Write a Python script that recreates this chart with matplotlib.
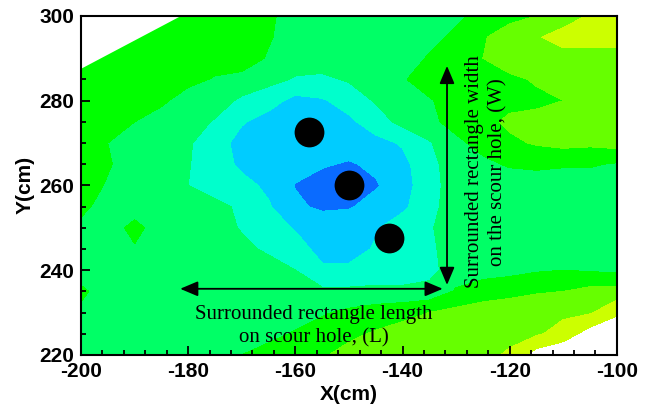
import matplotlib
matplotlib.use("Agg")
import matplotlib.pyplot as plt
from matplotlib.ticker import MultipleLocator

plt.rcParams['axes.unicode_minus'] = False

# measurement grid (cm)
x_cm = [-200, -195, -190, -185, -180, -175, -170, -165, -160, -155, -150,
        -145, -140, -135, -130, -125, -120, -115, -110, -105, -100]
y_cm = [300, 295, 290, 285, 280, 275, 270, 265, 260, 255, 250, 245, 240,
        235, 230, 225, 220]

# bed level class at each grid node (0 = deepest scour ... 6 = highest deposit)
bed = [
    [4, 4, 4, 4, 4, 4, 4, 3.7, 3, 3, 3, 3, 3, 3.2, 3.3, 3.8, 4.2, 4.5, 5.0, 5.6, 6.1],
    [4, 4, 4, 4, 4, 4, 4, 3.6, 3, 3, 3, 3, 3, 3.2, 3.7, 4.4, 5.0, 5.4, 5.9, 6, 6],
    [4, 4, 4, 4, 4, 4, 4, 3.4, 3, 3, 3, 3, 3, 3.6, 4, 4.5, 5, 5.1, 5.1, 5, 5],
    [4, 4, 4, 4, 3.8, 3.4, 3.2, 2.8, 2.4, 2.3, 2.6, 3, 3.4, 4, 4, 4.1, 4.3, 4.6, 4.7, 5, 5],
    [4, 4, 4, 3.7, 3, 3, 2.3, 1.9, 1.2, 1.4, 1.9, 2.6, 3.3, 3.4, 4, 4, 4.2, 4.3, 4.5, 5, 5],
    [4, 4, 3.5, 3, 3, 2.4, 1.6, 1.1, 1.3, 1.5, 1.3, 2.0, 2.8, 3.3, 3.8, 4.2, 4.7, 4.8, 5, 5, 5],
    [4, 3.5, 3, 3, 2.6, 2.0, 1.1, 1.0, 1.2, 1.0, 1.0, 1.2, 1.6, 2.4, 3.3, 3.8, 4.3, 4.6, 4.8, 4.7, 4.9],
    [4, 3.6, 3, 3, 2.55, 2, 1.3, 1, 0.9, 0.6, 0.4, 0.7, 1.2, 2.2, 3, 3.3, 3.6, 3.7, 3.6, 3.6, 3.4],
    [4, 3.4, 3, 3, 2.5, 2, 1.8, 1.3, 0.45, 0.1, 0.2, 0.4, 1.1, 2.1, 3, 3, 3, 3, 3, 3, 3],
    [3.8, 3, 3, 3, 3, 2.8, 2.3, 1.6, 0.7, 0.3, 0.4, 0.9, 1.3, 2.2, 3, 3, 3, 3, 3, 3, 3],
    [3.2, 3, 3.8, 3, 3, 3, 2.4, 2, 1.4, 1.2, 1.2, 1.4, 2.0, 2.4, 3, 3, 3, 3, 3, 3, 3],
    [3, 3, 3.4, 3, 3, 3, 2.8, 2.3, 2, 1.1, 1.1, 1.6, 2.1, 2.3, 3, 3, 3, 3, 3, 3, 3],
    [3, 3, 3, 3, 3, 3, 3, 3, 2.5, 1.7, 1.7, 2.0, 2.0, 2.2, 3, 3.1, 3.2, 3.4, 3.5, 3.4, 3.3],
    [3.7, 3, 3, 3, 3, 3, 3, 3, 2.8, 2.7, 2.7, 2.7, 2.7, 2.8, 3.6, 4.0, 4.2, 4.4, 4.5, 4.8, 4.9],
    [3.3, 3, 3, 3, 3, 3, 3, 3, 3, 3.4, 3.7, 4.0, 4.2, 4.5, 4.8, 5.0, 5.1, 5.2, 5.3, 5.4, 6.3],
    [3, 3, 3, 3, 3, 3, 3.0, 3.2, 3.6, 3.9, 4.3, 4.6, 4.9, 5, 5.1, 5.2, 5.3, 5.35, 5.9, 7.0, 7.5],
    [3, 3, 3, 3, 3, 3.1, 3.5, 3.9, 4.2, 4.4, 4.8, 5.0, 5.05, 5.1, 5.2, 5.3, 5.6, 7, 7.5, 8, 8],
]
band_levels = [-0.5, 0.5, 1.5, 2.5, 3.5, 4.5, 5.5, 6.5]
band_colors = ['#0a6bff', '#00ccff', '#00ffcc', '#00ff66', '#00ff00', '#66ff00', '#ccff00']

# corner of the flume not covered by the survey
outside_x = [-200, -181.3, -200]
outside_y = [287.5, 300, 300]

# piers
pier_x = [-157.5, -150.0, -142.5]
pier_y = [272.5, 260.0, 247.5]

# scour hole extent
len_x0, len_x1, len_y = -181.5, -132.5, 235.6
wid_x, wid_y0, wid_y1 = -131.7, 236.5, 288.2

fig = plt.figure(figsize=(6.48, 4.07), dpi=100)
ax = fig.add_axes([0.125, 0.128, 0.827, 0.833])

ax.contourf(x_cm, y_cm, bed, levels=band_levels, colors=band_colors)
ax.fill(outside_x, outside_y, color='white', lw=0, zorder=2)
ax.scatter(pier_x, pier_y, s=460, c='black', lw=0, zorder=4)

arrow = dict(arrowstyle='<|-|>,head_length=0.9,head_width=0.38', color='black',
             lw=1.3, mutation_scale=12, shrinkA=0, shrinkB=0)
ax.annotate('', xy=(len_x1, len_y), xytext=(len_x0, len_y), arrowprops=arrow, zorder=5)
ax.annotate('', xy=(wid_x, wid_y1), xytext=(wid_x, wid_y0), arrowprops=arrow, zorder=5)

serif = dict(family='Liberation Serif', fontsize=15, linespacing=1.25, zorder=6)
ax.text(-156.6, 226.8, 'Surrounded rectangle length\non scour hole, (L)',
        ha='center', va='center', **serif)
ax.text(-124.4, 263.2, 'Surrounded rectangle width\non the scour hole, (W)',
        ha='center', va='center', rotation=90, **serif)

ax.set_xlim(-200, -100)
ax.set_ylim(220, 300)
ax.set_xticks([-200, -180, -160, -140, -120, -100])
ax.set_yticks([220, 240, 260, 280, 300])
ax.xaxis.set_minor_locator(MultipleLocator(4))
ax.yaxis.set_minor_locator(MultipleLocator(5))
ax.tick_params(which='both', direction='in', top=False, right=False, width=1.3)
ax.tick_params(which='major', length=6.5, pad=5)
ax.tick_params(which='minor', length=3.5)
for lab in ax.get_xticklabels() + ax.get_yticklabels():
    lab.set_family('Liberation Sans')
    lab.set_fontweight('bold')
    lab.set_fontsize(15)
for sp in ax.spines.values():
    sp.set_linewidth(1.5)
    sp.set_zorder(7)

ax.set_xlabel('X(cm)', family='Liberation Sans', fontweight='bold', fontsize=15, labelpad=3)
ax.set_ylabel('Y(cm)', family='Liberation Sans', fontweight='bold', fontsize=15, labelpad=3)

fig.savefig('out.png', dpi=100)
